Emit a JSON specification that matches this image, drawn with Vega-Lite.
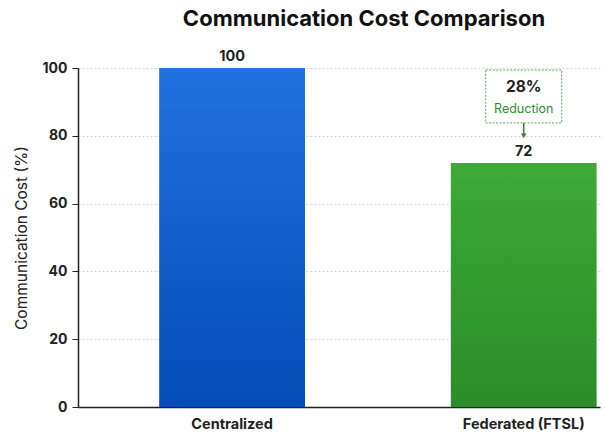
{
  "$schema": "https://vega.github.io/schema/vega-lite/v6.json",
  "autosize": "none",
  "width": 522,
  "height": 339,
  "padding": {"left": 78, "top": 68, "right": 6, "bottom": 28},
  "background": "white",
  "title": {
    "text": "Communication Cost Comparison",
    "font": "Inter",
    "fontSize": 22,
    "fontWeight": "bold",
    "color": "#111111",
    "anchor": "middle",
    "dx": 25,
    "offset": 18
  },
  "config": {
    "view": {"stroke": null},
    "font": "Inter"
  },
  "datasets": {
    "bars": [
      {"method": "Centralized", "cost": 100},
      {"method": "Federated (FTSL)", "cost": 72}
    ],
    "note": [
      {"method": "Federated (FTSL)", "top": 99.4, "bottom": 83.8, "pct": "28%", "pctY": 94.4, "word": "Reduction", "wordY": 87.9, "a1": 83.8, "a2": 80.0}
    ]
  },
  "encoding": {
    "x": {
      "field": "method",
      "type": "nominal",
      "sort": ["Centralized", "Federated (FTSL)"],
      "scale": {"paddingInner": 0.5, "paddingOuter": 0.145, "align": 0.96},
      "axis": {
        "title": null,
        "labelAngle": 0,
        "labelFont": "Inter",
        "labelFontSize": 14.5,
        "labelFontWeight": "bold",
        "labelColor": "#222222",
        "labelPadding": 10,
        "ticks": false,
        "domainColor": "#222222",
        "domainWidth": 1.5
      }
    }
  },
  "layer": [
    {
      "data": {"name": "bars"},
      "transform": [{"filter": "datum.method === 'Centralized'"}],
      "mark": {
        "type": "bar",
        "fill": {
          "gradient": "linear", "x1": 0, "y1": 0, "x2": 0, "y2": 1,
          "stops": [{"offset": 0, "color": "#2171e0"}, {"offset": 1, "color": "#034db6"}]
        }
      },
      "encoding": {
        "y": {
          "field": "cost",
          "type": "quantitative",
          "scale": {"domain": [0, 100], "nice": false},
          "axis": {
            "title": "Communication Cost (%)",
            "titleFont": "Inter",
            "titleFontSize": 15.5,
            "titleFontWeight": "normal",
            "titleColor": "#222222",
            "titlePadding": 13,
            "values": [0, 20, 40, 60, 80, 100],
            "labelFont": "Inter",
            "labelFontSize": 14,
            "labelFontWeight": "bold",
            "labelColor": "#222222",
            "labelPadding": 5,
            "tickColor": "#222222",
            "tickSize": 6,
            "domainColor": "#222222",
            "domainWidth": 1.5,
            "grid": true,
            "gridColor": "#d4d4d4",
            "gridDash": [2, 2],
            "gridWidth": 1
          }
        }
      }
    },
    {
      "data": {"name": "bars"},
      "transform": [{"filter": "datum.method !== 'Centralized'"}],
      "mark": {
        "type": "bar",
        "fill": {
          "gradient": "linear", "x1": 0, "y1": 0, "x2": 0, "y2": 1,
          "stops": [{"offset": 0, "color": "#3daa38"}, {"offset": 1, "color": "#2a8d2a"}]
        }
      },
      "encoding": {"y": {"field": "cost", "type": "quantitative"}}
    },
    {
      "data": {"name": "bars"},
      "mark": {"type": "text", "baseline": "bottom", "dy": -4, "fontSize": 14.5, "fontWeight": "bold", "color": "#222222", "font": "Inter"},
      "encoding": {
        "y": {"field": "cost", "type": "quantitative"},
        "text": {"field": "cost", "type": "quantitative"}
      }
    },
    {
      "data": {"name": "note"},
      "mark": {"type": "bar", "width": 76, "fill": "white", "stroke": "#5aa85a", "strokeDash": [2, 1.5], "strokeWidth": 1},
      "encoding": {
        "y": {"field": "top", "type": "quantitative"},
        "y2": {"field": "bottom"}
      }
    },
    {
      "data": {"name": "note"},
      "mark": {"type": "text", "fontSize": 15.5, "fontWeight": "bold", "color": "#222222", "font": "Inter"},
      "encoding": {
        "y": {"field": "pctY", "type": "quantitative"},
        "text": {"field": "pct"}
      }
    },
    {
      "data": {"name": "note"},
      "mark": {"type": "text", "fontSize": 12.5, "fontWeight": "normal", "color": "#2e8b2e", "font": "Inter"},
      "encoding": {
        "y": {"field": "wordY", "type": "quantitative"},
        "text": {"field": "word"}
      }
    },
    {
      "data": {"name": "note"},
      "mark": {"type": "rule", "color": "#3a7d3a", "strokeWidth": 1.5},
      "encoding": {
        "y": {"field": "a1", "type": "quantitative"},
        "y2": {"field": "a2"}
      }
    },
    {
      "data": {"name": "note"},
      "mark": {"type": "point", "shape": "triangle-down", "filled": true, "size": 30, "color": "#3a7d3a", "opacity": 1},
      "encoding": {
        "y": {"field": "a2", "type": "quantitative"}
      }
    }
  ]
}
